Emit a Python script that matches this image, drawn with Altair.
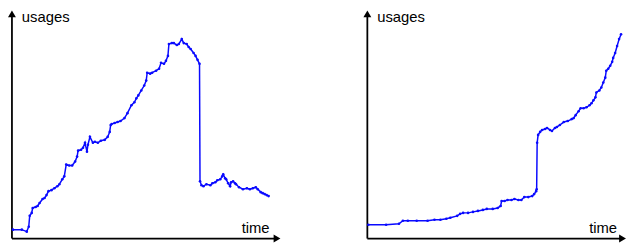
import altair as alt
import pandas as pd

# ---- data (time, usages in arbitrary units) ----
left_time = [1, 10, 15, 17, 18, 20, 21, 24, 26, 28, 31, 33, 35, 37, 40, 43, 46, 48, 51, 53,
             55, 58, 61, 64, 66, 67, 70, 72, 74, 76, 77, 79, 82, 84, 87, 90, 94, 97, 99, 100,
             101, 104, 107, 110, 114, 117, 121, 124, 126, 128, 131, 134, 136, 137, 140, 142,
             146, 149, 151, 154, 156, 158, 159, 162, 164, 167, 169, 172, 174, 177, 179, 181,
             184, 186, 188, 190, 190.5, 192, 194, 197, 201, 203, 206, 208, 211, 213, 214, 216,
             217, 219, 221, 222, 224, 226, 227, 230, 234, 238, 241, 244, 247, 249, 252, 254,
             256, 258, 260]
left_usage = [9, 9, 7, 12, 23, 26, 31, 32, 33, 36, 40, 41, 44, 48, 49, 51, 53, 55, 60, 63,
              75, 74, 74, 78, 83, 89, 90, 92, 97, 88, 95, 103, 97, 98, 97, 99, 100, 103, 108, 115,
              116, 117, 118, 119, 122, 127, 135, 138, 142, 145, 150, 155, 160, 168, 167, 168,
              170, 172, 178, 177, 180, 185, 197, 198, 198, 196, 197, 202, 198, 197, 194, 192,
              188, 185, 181, 177, 58, 54, 53, 55, 54, 56, 57, 59, 60, 63, 65, 61,
              60, 56, 53, 57, 58, 56, 55, 52, 50, 51, 50, 51, 52, 50, 47, 46,
              45, 44, 43]

right_time = [1, 19, 32, 36, 41, 50, 61, 68, 74, 80, 84, 91, 94, 97, 102, 107, 112, 117, 121,
              127, 132, 135, 136, 139, 142, 146, 149, 153, 156, 159, 163, 167, 169, 171, 171.5,
              172, 173, 175, 177, 180, 182, 185, 187, 190, 192, 195, 199, 203, 207, 209, 211,
              214, 216, 219, 222, 225, 227, 229, 231, 232, 235, 237, 239, 241, 242, 244, 246,
              248, 249, 251, 253, 255, 257]
right_usage = [14, 14, 15, 18, 18, 18, 18, 19, 19, 20, 21, 23, 25, 26, 26, 27, 28, 29, 30,
               30, 31, 33, 38, 38, 39, 39, 40, 39, 39, 42, 42, 43, 45, 48, 50,
               97, 105, 108, 110, 111, 112, 110, 109, 112, 113, 115, 118, 119, 121, 122, 125,
               129, 132, 132, 133, 135, 137, 140, 143, 148, 150, 153, 158, 163, 170, 172, 175,
               179, 183, 188, 195, 202, 207]

y_label = "usages"
x_label = "time"

BLUE = "#0a0aff"
FONT = "Liberation Sans"
W1, W2, H = 290, 285, 234


def panel(times, usages, xdom, ydom, w, xtip, ytip, time_right):
    xs = alt.Scale(domain=xdom, nice=False, zero=False)
    ys = alt.Scale(domain=ydom, nice=False, zero=False)
    X = lambda f: alt.X(f, type="quantitative", scale=xs, axis=None)
    Y = lambda f: alt.Y(f, type="quantitative", scale=ys, axis=None)

    df = pd.DataFrame({"t": times, "u": usages, "i": list(range(len(times)))})
    line = alt.Chart(df).mark_line(
        color=BLUE, strokeWidth=1.5,
        point=alt.OverlayMarkDef(filled=True, size=7, color=BLUE, opacity=1),
    ).encode(x=X("t"), y=Y("u"), order=alt.Order("i:Q"))

    axes_df = pd.DataFrame({"x": [0, 0], "y": [0, 0], "x2": [xtip - 4, 0], "y2": [0, ytip - 4]})
    rules = alt.Chart(axes_df).mark_rule(color="black", strokeWidth=1.8).encode(
        x=X("x"), y=Y("y"), x2="x2", y2="y2")

    heads_df = pd.DataFrame({"x": [xtip - 3.5, 0], "y": [0, ytip - 3.5],
                             "s": ["triangle-right", "triangle-up"]})
    heads = alt.Chart(heads_df).mark_point(filled=True, color="black", size=64, opacity=1).encode(
        x=X("x"), y=Y("y"), shape=alt.Shape("s:N", scale=None))

    ulab = alt.Chart(pd.DataFrame({"x": [10], "y": [219.5], "t": [y_label]})).mark_text(
        align="left", baseline="alphabetic", font=FONT, fontSize=15, color="black").encode(
        x=X("x"), y=Y("y"), text="t:N")
    tlab = alt.Chart(pd.DataFrame({"x": [time_right], "y": [6], "t": [x_label]})).mark_text(
        align="right", baseline="alphabetic", font=FONT, fontSize=15, color="black").encode(
        x=X("x"), y=Y("y"), text="t:N")

    return alt.layer(rules, heads, line, ulab, tlab).properties(width=w, height=H)


p1 = panel(left_time, left_usage, [-3, W1 - 3], [232 - H, 232], W1, 272, 231, 261)
p2 = panel(right_time, right_usage, [-23, W2 - 23], [232 - H, 232], W2, 262, 231, 253)

chart = alt.hconcat(p1, p2, spacing=50).properties(padding=0).configure_view(stroke=None)

chart.save("out.html", embed_options={"renderer": "svg", "actions": False})
